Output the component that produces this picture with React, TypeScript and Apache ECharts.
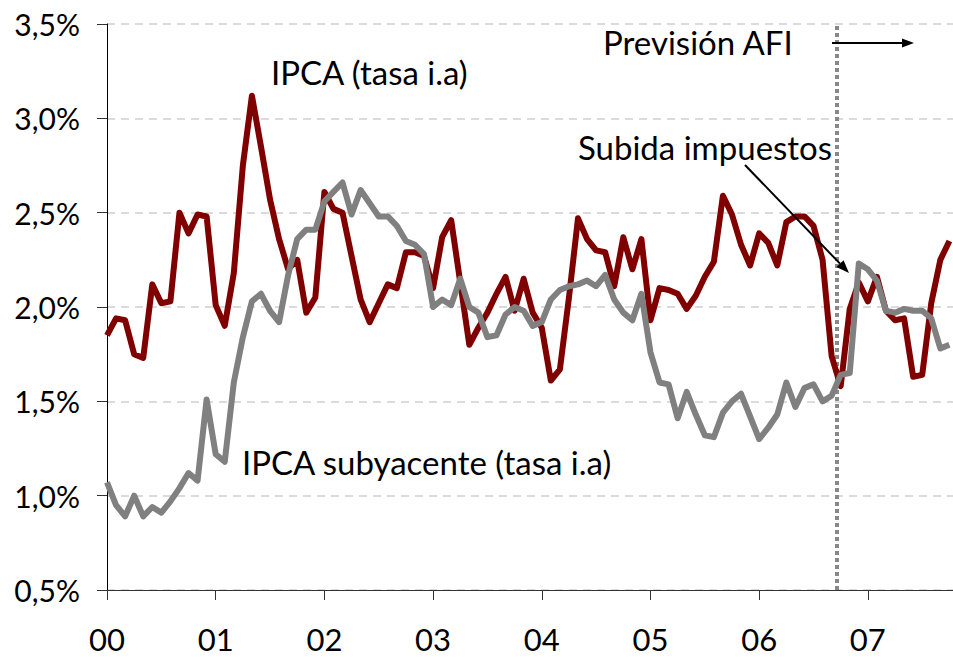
import React, { useEffect, useRef } from "react";
import * as echarts from "echarts";

// Month index 0 = Jan 2000
const yearLabels = ["00", "01", "02", "03", "04", "05", "06", "07"];
const yearTickMonths = [0, 12, 24, 36, 48, 60, 72, 84];

const ipca = [
  1.85, 1.94, 1.93, 1.75, 1.73, 2.12, 2.02, 2.03, 2.5, 2.39, 2.49, 2.48,
  2.01, 1.9, 2.18, 2.75, 3.12, 2.85, 2.57, 2.36, 2.2, 2.25, 1.97, 2.05,
  2.61, 2.52, 2.5, 2.27, 2.04, 1.92, 2.02, 2.12, 2.1, 2.29, 2.29, 2.27,
  2.1, 2.37, 2.46, 2.13, 1.8, 1.89, 1.97, 2.07, 2.16, 1.98, 2.15, 1.97,
  1.89, 1.61, 1.67, 2.05, 2.47, 2.36, 2.3, 2.29, 2.11, 2.37, 2.2, 2.36,
  1.93, 2.1, 2.09, 2.07, 1.99, 2.06, 2.16, 2.24, 2.59, 2.49, 2.33, 2.22,
  2.39, 2.34, 2.22, 2.45, 2.48, 2.48, 2.43, 2.25, 1.74, 1.58, 1.99, 2.13,
  2.03, 2.16, 1.98, 1.93, 1.94, 1.63, 1.64, 2.02, 2.25, 2.35,
];

const subyacente = [
  1.07, 0.95, 0.89, 1.0, 0.89, 0.94, 0.91, 0.97, 1.04, 1.12, 1.08, 1.51,
  1.22, 1.18, 1.6, 1.84, 2.03, 2.07, 1.98, 1.92, 2.17, 2.36, 2.41, 2.41,
  2.56, 2.61, 2.66, 2.49, 2.62, 2.55, 2.48, 2.48, 2.43, 2.35, 2.33, 2.28,
  2.0, 2.04, 2.01, 2.15, 2.0, 1.97, 1.84, 1.85, 1.96, 2.0, 1.98, 1.9,
  1.92, 2.04, 2.09, 2.11, 2.12, 2.14, 2.11, 2.17, 2.04, 1.97, 1.93, 2.07,
  1.76, 1.6, 1.59, 1.41, 1.55, 1.43, 1.32, 1.31, 1.44, 1.5, 1.54, 1.42,
  1.3, 1.36, 1.43, 1.6, 1.47, 1.57, 1.59, 1.5, 1.53, 1.64, 1.65, 2.23,
  2.2, 2.14, 1.98, 1.97, 1.99, 1.98, 1.98, 1.94, 1.78, 1.8,
];

const forecastStart = 80.6;

const FONT = "Lato";

export default function App() {
  const ref = useRef<HTMLDivElement>(null);

  useEffect(() => {
    if (!ref.current) return;
    const chart = echarts.init(ref.current, null, { renderer: "svg" });

    const toPairs = (arr: number[]) => arr.map((v, i) => [i, v]);

    const arrowHead = (x1: number, y1: number, x2: number, y2: number, len: number, half: number) => {
      const dx = x2 - x1;
      const dy = y2 - y1;
      const d = Math.sqrt(dx * dx + dy * dy);
      const ux = dx / d;
      const uy = dy / d;
      const bx = x2 - ux * len;
      const by = y2 - uy * len;
      return {
        line: [x1, y1, bx, by],
        head: [
          [x2, y2],
          [bx - uy * half, by + ux * half],
          [bx + uy * half, by - ux * half],
        ],
      };
    };

    const a1 = arrowHead(832, 43, 914, 43, 12, 4.5);
    const a2 = arrowHead(745, 165, 849, 273, 13, 5);

    const annot = (text: string, x: number, y: number) => ({
      type: "text",
      x,
      y,
      style: { text, fontFamily: FONT, fontSize: 33, fill: "#000", verticalAlign: "middle", align: "left" },
    });

    chart.setOption({
      animation: false,
      backgroundColor: "#ffffff",
      grid: { left: 107, right: 0, top: 24, bottom: 67, containLabel: false },
      xAxis: {
        type: "value",
        min: 0,
        max: 93.4,
        axisLine: { show: true, onZero: false, lineStyle: { color: "#333", width: 1 } },
        axisTick: {
          show: true,
          customValues: yearTickMonths,
          length: 10,
          lineStyle: { color: "#333", width: 1 },
        },
        axisLabel: {
          customValues: yearTickMonths,
          formatter: (v: number) => yearLabels[Math.round(v / 12)] ?? "",
          fontFamily: FONT,
          fontSize: 31,
          lineHeight: 31,
          color: "#000",
          margin: 33,
        },
        splitLine: { show: false },
      },
      yAxis: {
        type: "value",
        min: 0.5,
        max: 3.5,
        interval: 0.5,
        axisLine: { show: true, lineStyle: { color: "#000", width: 1 } },
        axisTick: { show: true, length: 10, lineStyle: { color: "#333", width: 1 } },
        axisLabel: {
          formatter: (v: number) => v.toFixed(1).replace(".", ",") + "%",
          fontFamily: FONT,
          fontSize: 30,
          color: "#000",
          margin: 27,
        },
        splitLine: {
          show: true,
          lineStyle: { color: "#d0d0d0", type: [8, 6], width: 1.5 },
        },
      },
      series: [
        {
          name: "IPCA (tasa i.a)",
          type: "line",
          data: toPairs(ipca),
          showSymbol: false,
          lineStyle: { color: "#800000", width: 6, join: "round" },
          itemStyle: { color: "#800000" },
          z: 3,
        },
        {
          name: "IPCA subyacente (tasa i.a)",
          type: "line",
          data: toPairs(subyacente),
          showSymbol: false,
          lineStyle: { color: "#808080", width: 6, join: "round" },
          itemStyle: { color: "#808080" },
          z: 4,
          markLine: {
            silent: true,
            symbol: ["none", "none"],
            label: { show: false },
            lineStyle: { color: "#888888", type: [4, 3], width: 4 },
            data: [{ xAxis: forecastStart }],
            z: 2,
          },
        },
      ],
      graphic: [
        annot("IPCA (tasa i.a)", 271, 72),
        annot("IPCA subyacente (tasa i.a)", 242, 462),
        annot("Previsión AFI", 603, 42),
        annot("Subida impuestos", 578, 147),
        {
          type: "line",
          shape: { x1: a1.line[0], y1: a1.line[1], x2: a1.line[2], y2: a1.line[3] },
          style: { stroke: "#000", lineWidth: 2 },
          z: 10,
        },
        {
          type: "polygon",
          shape: { points: a1.head },
          style: { fill: "#000" },
          z: 10,
        },
        {
          type: "line",
          shape: { x1: a2.line[0], y1: a2.line[1], x2: a2.line[2], y2: a2.line[3] },
          style: { stroke: "#000", lineWidth: 2 },
          z: 10,
        },
        {
          type: "polygon",
          shape: { points: a2.head },
          style: { fill: "#000" },
          z: 10,
        },
      ],
    });

    return () => chart.dispose();
  }, []);

  return (
    <div
      ref={ref}
      style={{ position: "fixed", left: 0, top: 0, width: 953, height: 657, background: "#fff" }}
    />
  );
}
